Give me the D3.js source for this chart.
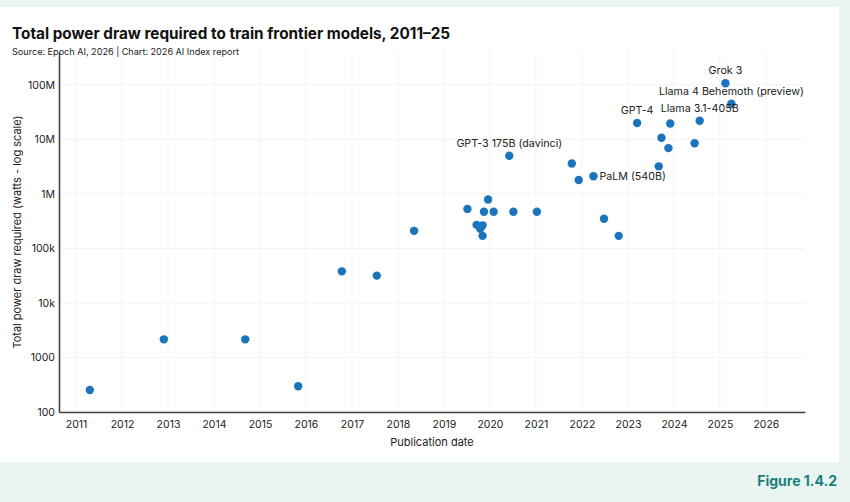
<!DOCTYPE html>
<html>
<head>
<meta charset="utf-8">
<script src="https://cdn.jsdelivr.net/npm/d3@7"></script>
<style>
  body { margin: 0; background: #eaf5f1; }
  svg { display: block; font-family: "Inter", "Noto Sans", sans-serif; }
</style>
</head>
<body>
<svg id="chart" width="850" height="502"></svg>
<script>
// publication date (decimal year) and total power draw in watts
var years = [2011.30, 2012.91, 2014.68, 2015.83, 2016.78, 2017.54, 2018.35,
  2019.51, 2019.96, 2019.87, 2020.08, 2020.51, 2021.02,
  2019.71, 2019.84, 2019.79, 2019.84,
  2020.42, 2021.78, 2021.93, 2022.25, 2022.48, 2022.80,
  2023.20, 2023.67, 2023.73, 2023.88, 2023.92, 2024.45, 2024.56,
  2025.12, 2025.25];
var watts = [253, 2150, 2150, 296, 38000, 31700, 210000,
  530000, 790000, 470000, 470000, 470000, 470000,
  270000, 265000, 230000, 170000,
  5000000, 3600000, 1800000, 2100000, 350000, 170000,
  20000000, 3200000, 10700000, 6900000, 19500000, 8500000, 22000000,
  107000000, 45000000];
var labels = ["", "", "", "", "", "", "",
  "", "", "", "", "", "",
  "", "", "", "",
  "GPT-3 175B (davinci)", "", "", "PaLM (540B)", "", "",
  "GPT-4", "", "", "", "", "", "Llama 3.1-405B",
  "Grok 3", "Llama 4 Behemoth (preview)"];
var labelSide = {"PaLM (540B)": "right"};

var xTicks = d3.range(2011, 2027);
var yTicks = [100, 1000, 1e4, 1e5, 1e6, 1e7, 1e8];
var yTickLabels = ["100", "1000", "10k", "100k", "1M", "10M", "100M"];

var svg = d3.select("#chart");

// white panel
svg.append("rect").attr("x", 0).attr("y", 7).attr("width", 839).attr("height", 455).attr("fill", "#fff");

var plotLeft = 59, plotRight = 805, plotTop = 52, plotBottom = 412;
var x = d3.scaleLinear().domain([2010.63, 2026.85]).range([plotLeft, plotRight]);
var y = d3.scaleLog().domain([100, 4e8]).range([plotBottom, plotTop]);

// grid
svg.append("g").selectAll("line").data(xTicks).enter().append("line")
  .attr("x1", function (d) { return x(d); }).attr("x2", function (d) { return x(d); })
  .attr("y1", plotTop).attr("y2", plotBottom)
  .attr("stroke", "#f3f3f3").attr("stroke-width", 1);
svg.append("g").selectAll("line").data(yTicks).enter().append("line")
  .attr("x1", plotLeft).attr("x2", plotRight)
  .attr("y1", function (d) { return y(d); }).attr("y2", function (d) { return y(d); })
  .attr("stroke", "#f3f3f3").attr("stroke-width", 1);

// axes
var xAxis = svg.append("g").attr("transform", "translate(0," + plotBottom + ")")
  .call(d3.axisBottom(x).tickValues(xTicks).tickFormat(d3.format("d")).tickSize(0).tickPadding(9));
var yAxis = svg.append("g").attr("transform", "translate(" + plotLeft + ",0)")
  .call(d3.axisLeft(y).tickValues(yTicks).tickFormat(function (d, i) { return yTickLabels[i]; }).tickSize(0).tickPadding(4));
[xAxis, yAxis].forEach(function (g) {
  g.select(".domain").attr("stroke", "#444").attr("stroke-width", 1.6);
  g.selectAll("text").attr("fill", "#222").attr("font-size", 10.5).attr("font-family", "Inter, sans-serif");
});

// points
svg.append("g").selectAll("circle").data(years).enter().append("circle")
  .attr("cx", function (d) { return x(d); })
  .attr("cy", function (d, i) { return y(watts[i]); })
  .attr("r", 4.2)
  .attr("fill", "#1c75bc");

// labels
var labelled = d3.range(years.length).filter(function (i) { return labels[i] !== ""; });
svg.append("g").selectAll("text").data(labelled).enter().append("text")
  .attr("x", function (i) { return labelSide[labels[i]] ? x(years[i]) + 6 : x(years[i]); })
  .attr("y", function (i) { return labelSide[labels[i]] ? y(watts[i]) + 4 : y(watts[i]) - 9; })
  .attr("text-anchor", function (i) { return labelSide[labels[i]] ? "start" : "middle"; })
  .attr("font-size", 10.7)
  .attr("fill", "#222")
  .text(function (i) { return labels[i]; });

// titles
svg.append("text").attr("x", 12).attr("y", 39).attr("font-size", 15.3).attr("font-weight", 700)
  .attr("fill", "#111").text("Total power draw required to train frontier models, 2011–25");
svg.append("text").attr("x", 12).attr("y", 55).attr("font-size", 9.1).attr("fill", "#222")
  .text("Source: Epoch AI, 2026 | Chart: 2026 AI Index report");
svg.append("text").attr("x", (plotLeft + plotRight) / 2).attr("y", 446).attr("text-anchor", "middle")
  .attr("font-size", 11).attr("fill", "#222").text("Publication date");
svg.append("text").attr("transform", "translate(21," + ((plotTop + plotBottom) / 2) + ") rotate(-90)")
  .attr("text-anchor", "middle").attr("font-size", 11).attr("fill", "#222")
  .text("Total power draw required (watts - log scale)");
svg.append("text").attr("x", 837).attr("y", 486).attr("text-anchor", "end")
  .attr("font-size", 14).attr("font-weight", 700).attr("fill", "#1a7f7a").text("Figure 1.4.2");
</script>
</body>
</html>
